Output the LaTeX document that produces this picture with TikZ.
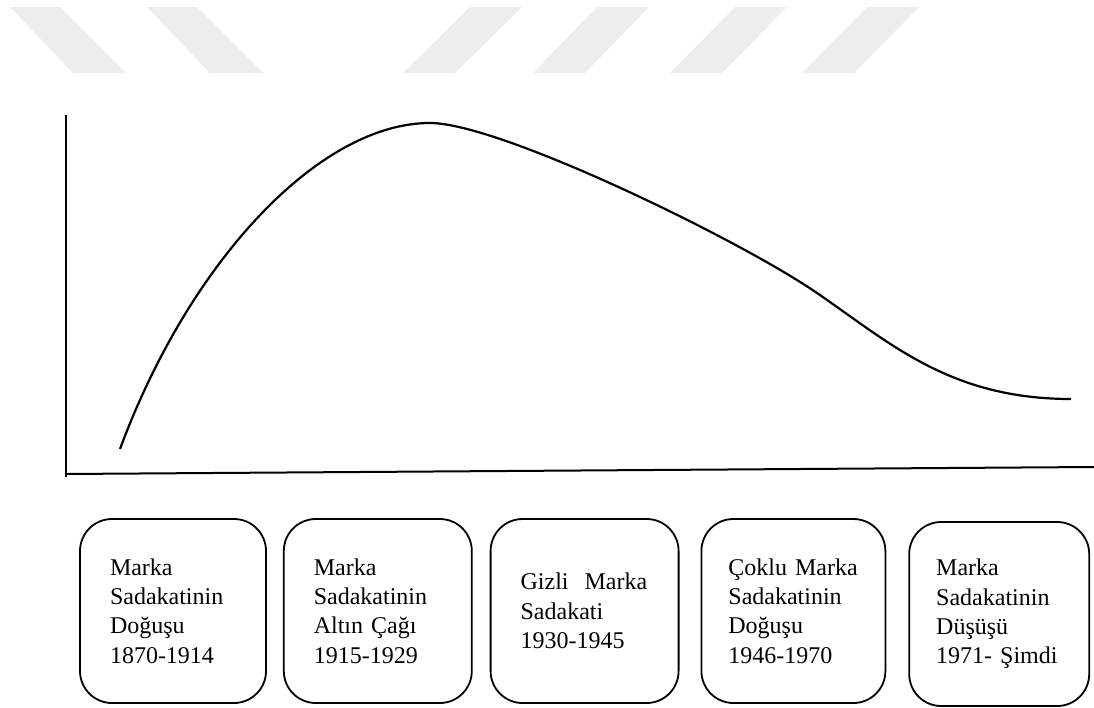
\documentclass[tikz,border=0pt]{standalone}
\usepackage{fontspec}
\setmainfont{Liberation Serif}
\usepackage{tikz}
\usetikzlibrary{positioning}
\definecolor{wmgray}{RGB}{237,237,237}

\begin{document}
\begin{tikzpicture}[x=1pt, y=-1pt,
		stage/.style={draw, line width=1.8pt, rounded corners=32pt, minimum height=184pt,
			inner xsep=30pt, inner ysep=0pt, align=left, text width=#1,
			font=\fontsize{24}{29.3}\selectfont},
		axis/.style={line width=2pt},
		trend/.style={line width=2.2pt, line join=round}]
		\useasboundingbox (0,0) rectangle (1094,707);
		\foreach \a/\b in {10/73, 147/210}
		\fill[wmgray] (\a,7) -- (\a+50,7) -- (\b+53,73) -- (\b,73) -- cycle;
		\foreach \a/\b in {403/470, 533/597, 670/735, 802/867}
		\fill[wmgray] (\a,73) -- (\a+52,73) -- (\b+52,7) -- (\b,7) -- cycle;
		
		\coordinate (ytop) at (66,115);
		\coordinate (origin) at (66,477);
		\coordinate (xstart) at (65,474);
		\coordinate (xend) at (1094,467);
		\draw[axis] (ytop) -- (origin);
		\draw[axis] (xstart) -- (xend);
		
		\draw[trend] (120,449) .. controls (190,260) and (320,123) .. (430,123)
			.. controls (500,123) and (740,240) .. (817,293)
			.. controls (890,343) and (950,399) .. (1071,399);
		
		\node[stage=126pt] (dogus) at (173,611) {Marka\\Sadakatinin\\Doğuşu\\1870-1914};
		\node[stage=128pt, right=16pt of dogus] (altin) {Marka\\Sadakatinin\\Altın Çağı\\1915-1929};
		\node[stage=128pt, right=17pt of altin] (gizli) {Gizli\hspace{16pt}Marka\\Sadakati\\1930-1945};
		\node[stage=130pt, inner xsep=27pt, right=21pt of gizli] (coklu) {Çoklu Marka\\Sadakatinin\\Doğuşu\\1946-1970};
		\node[stage=126pt, inner xsep=27pt, right=22pt of coklu, yshift=-3pt] (dusus) {Marka\\Sadakatinin\\Düşüşü\\1971-~Şimdi};
\end{tikzpicture}
\end{document}
